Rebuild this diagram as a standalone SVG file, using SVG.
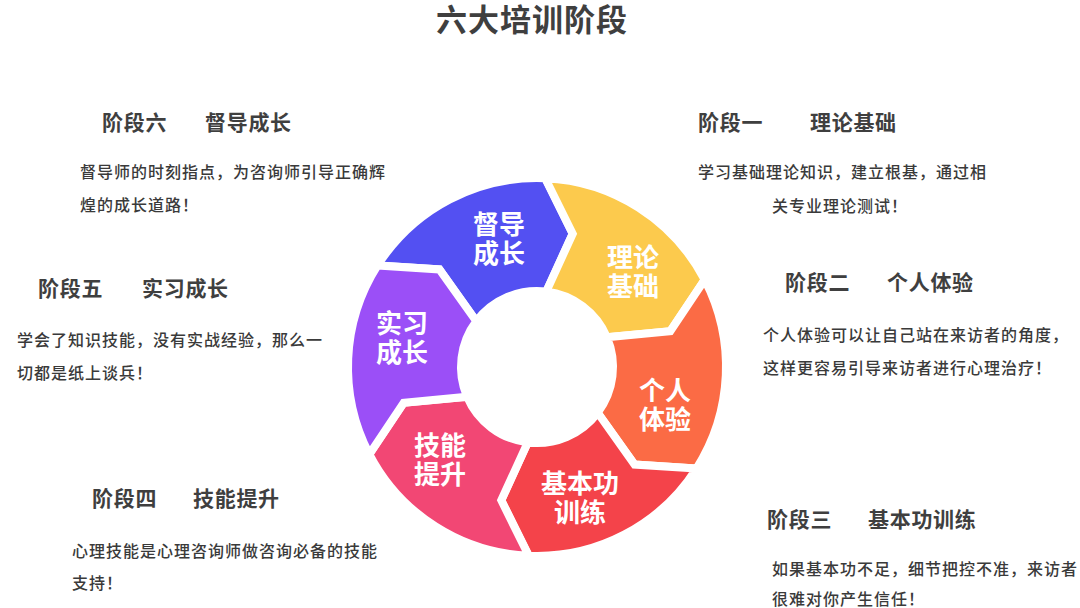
<svg xmlns="http://www.w3.org/2000/svg" width="1080" height="608" viewBox="0 0 1080 608">
<style>
.seg{stroke:#ffffff;stroke-width:8;stroke-linejoin:miter}
.lbl{font-family:"Noto Sans CJK SC","Noto Sans",sans-serif;font-size:26px;font-weight:bold;fill:#ffffff;text-anchor:middle}
.ttl{font-family:"Noto Sans CJK SC","Noto Sans",sans-serif;font-size:21px;font-weight:bold;fill:#3f3f3f;letter-spacing:0.7px}
.body{font-family:"Noto Sans CJK SC","Noto Sans",sans-serif;font-size:16px;font-weight:500;fill:#3a3a3a;letter-spacing:1px}
.main{font-family:"Noto Sans CJK SC","Noto Sans",sans-serif;font-size:31px;font-weight:bold;fill:#3f3f3f;text-anchor:middle;letter-spacing:1px}
</style>
<rect width="1080" height="608" fill="#ffffff"/>
<text class="main" x="532" y="31">六大培训阶段</text>

<g id="ring">
  <g id="seg-supervision">
    <path class="seg" fill="#5350F2" d="M 377.60 265.45 A 189 189 0 0 1 545.24 178.18 L 572.72 233.70 L 546.26 291.57 A 76 76 0 0 0 476.30 321.26 L 439.42 269.42 Z"/>
    <text class="lbl" x="499" y="234">督导<tspan x="499" dy="29">成长</tspan></text>
  </g>
  <g id="seg-theory">
    <path class="seg" fill="#FCCA4D" d="M 545.24 178.18 A 189 189 0 0 1 704.65 279.73 L 670.30 331.28 L 606.96 337.30 A 76 76 0 0 0 546.26 291.57 L 572.72 233.70 Z"/>
    <text class="lbl" x="633" y="267">理论<tspan x="633" dy="29">基础</tspan></text>
  </g>
  <g id="seg-experience">
    <path class="seg" fill="#FB6B45" d="M 704.65 279.73 A 189 189 0 0 1 696.40 468.55 L 634.58 464.58 L 597.70 412.74 A 76 76 0 0 0 606.96 337.30 L 670.30 331.28 Z"/>
    <text class="lbl" x="665" y="400">个人<tspan x="665" dy="29">体验</tspan></text>
  </g>
  <g id="seg-basic">
    <path class="seg" fill="#F4434A" d="M 696.40 468.55 A 189 189 0 0 1 528.76 555.82 L 501.28 500.30 L 527.74 442.43 A 76 76 0 0 0 597.70 412.74 L 634.58 464.58 Z"/>
    <text class="lbl" x="580" y="493">基本功<tspan x="580" dy="29">训练</tspan></text>
  </g>
  <g id="seg-skill">
    <path class="seg" fill="#F24774" d="M 528.76 555.82 A 189 189 0 0 1 369.35 454.27 L 403.70 402.72 L 467.04 396.70 A 76 76 0 0 0 527.74 442.43 L 501.28 500.30 Z"/>
    <text class="lbl" x="440" y="455">技能<tspan x="440" dy="29">提升</tspan></text>
  </g>
  <g id="seg-practice">
    <path class="seg" fill="#9B4FF7" d="M 369.35 454.27 A 189 189 0 0 1 377.60 265.45 L 439.42 269.42 L 476.30 321.26 A 76 76 0 0 0 467.04 396.70 L 403.70 402.72 Z"/>
    <text class="lbl" x="402" y="333">实习<tspan x="402" dy="29">成长</tspan></text>
  </g>
</g>

<g id="stage6">
  <text class="ttl" x="102" y="130">阶段六</text>
  <text class="ttl" x="205" y="130">督导成长</text>
  <text class="body" x="80" y="178">督导师的时刻指点，为咨询师引导正确辉</text>
  <text class="body" x="80" y="211">煌的成长道路！</text>
</g>
<g id="stage1">
  <text class="ttl" x="698" y="130">阶段一</text>
  <text class="ttl" x="810" y="130">理论基础</text>
  <text class="body" x="698" y="178">学习基础理论知识，建立根基，通过相</text>
  <text class="body" x="772" y="212">关专业理论测试！</text>
</g>
<g id="stage5">
  <text class="ttl" x="38" y="296">阶段五</text>
  <text class="ttl" x="142" y="296">实习成长</text>
  <text class="body" x="17" y="346">学会了知识技能，没有实战经验，那么一</text>
  <text class="body" x="17" y="379">切都是纸上谈兵！</text>
</g>
<g id="stage2">
  <text class="ttl" x="785" y="290">阶段二</text>
  <text class="ttl" x="887" y="290">个人体验</text>
  <text class="body" x="763" y="341">个人体验可以让自己站在来访者的角度，</text>
  <text class="body" x="763" y="374">这样更容易引导来访者进行心理治疗！</text>
</g>
<g id="stage4">
  <text class="ttl" x="92" y="506">阶段四</text>
  <text class="ttl" x="193" y="506">技能提升</text>
  <text class="body" x="72" y="557">心理技能是心理咨询师做咨询必备的技能</text>
  <text class="body" x="72" y="589">支持！</text>
</g>
<g id="stage3">
  <text class="ttl" x="767" y="527">阶段三</text>
  <text class="ttl" x="868" y="527">基本功训练</text>
  <text class="body" x="772" y="575">如果基本功不足，细节把控不准，来访者</text>
  <text class="body" x="772" y="605">很难对你产生信任！</text>
</g>
</svg>
